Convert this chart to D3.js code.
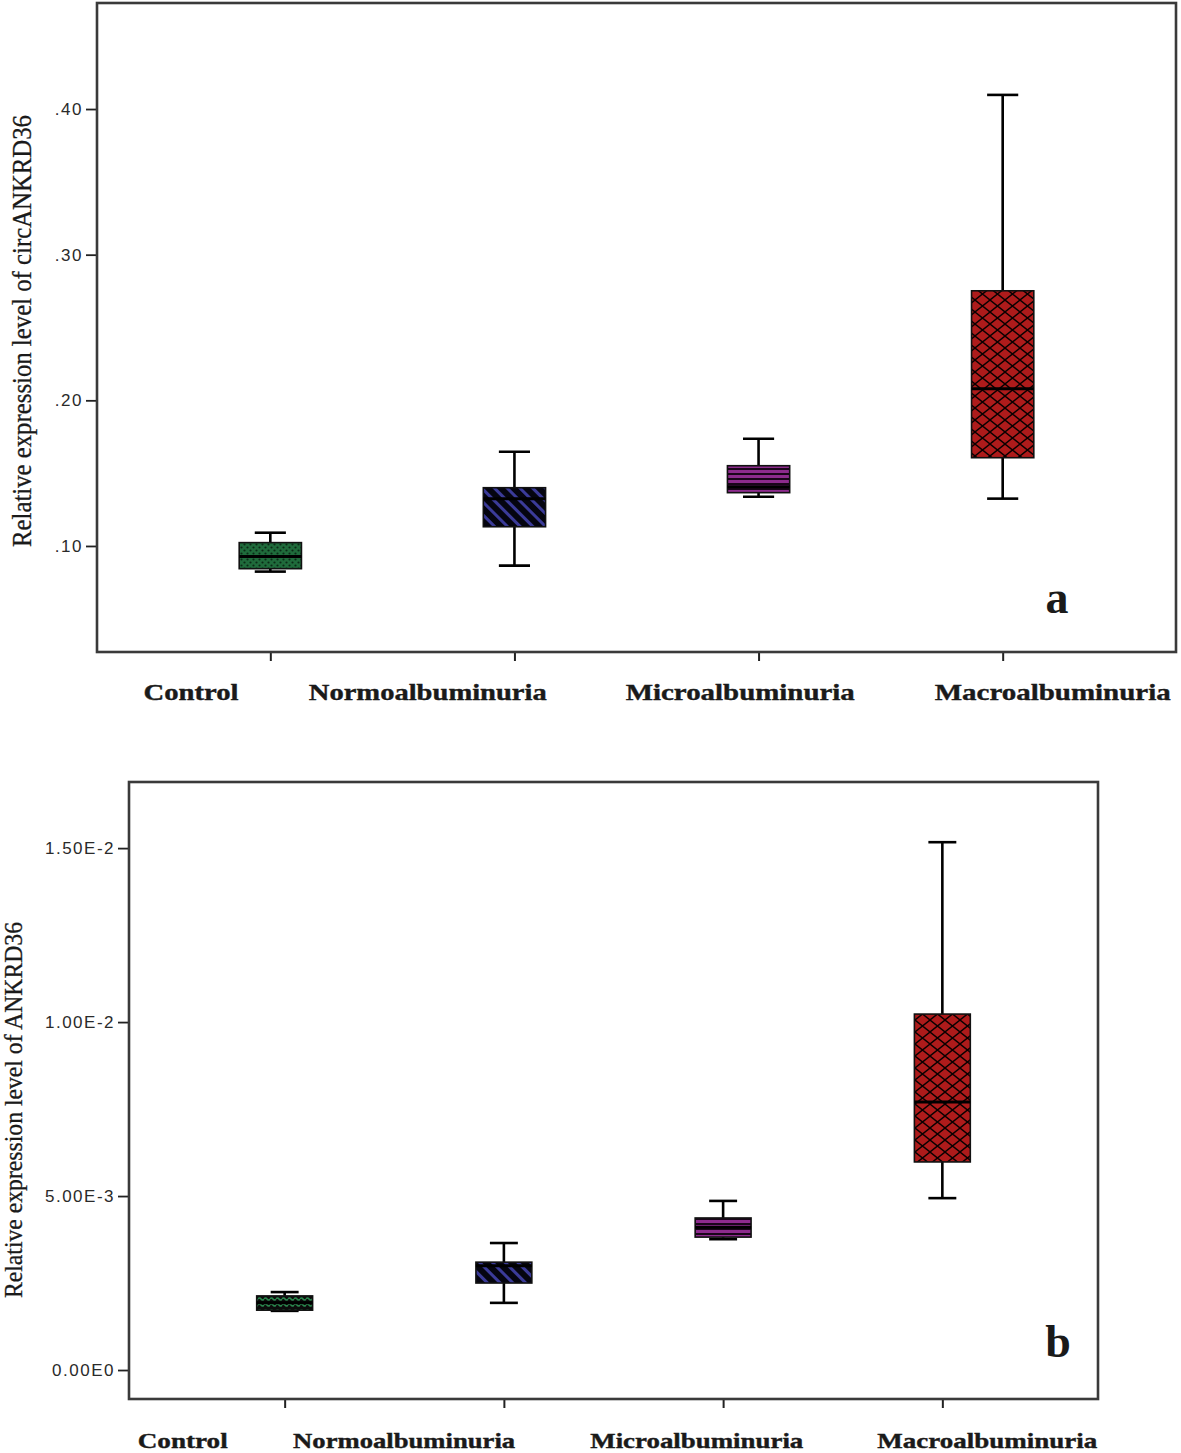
<!DOCTYPE html>
<html>
<head>
<meta charset="utf-8">
<script src="https://cdn.jsdelivr.net/npm/d3@7"></script>
<style>
  html, body { margin: 0; padding: 0; background: #fff; }
  svg { display: block; }
</style>
</head>
<body>
<svg id="chart" width="1181" height="1453"></svg>
<script>
// ---------------- DATA ----------------
const categories = ["Control", "Normoalbuminuria", "Microalbuminuria", "Macroalbuminuria"];

// Panel a: circANKRD36
const circWhiskerLow  = [0.0824, 0.0865, 0.1338, 0.1325];
const circQ1          = [0.0844, 0.1132, 0.1366, 0.1606];
const circMedian      = [0.0927, 0.1325, 0.1407, 0.2080];
const circQ3          = [0.1023, 0.1400, 0.1551, 0.2752];
const circWhiskerHigh = [0.1091, 0.1647, 0.1736, 0.4097];
const circTicks = [0.1, 0.2, 0.3, 0.4];

// Panel b: ANKRD36
const ankWhiskerLow  = [0.00170, 0.00193, 0.00376, 0.00494];
const ankQ1          = [0.00172, 0.00250, 0.00382, 0.00598];
const ankMedian      = [0.00193, 0.00300, 0.00410, 0.00770];
const ankQ3          = [0.00213, 0.00310, 0.00437, 0.01023];
const ankWhiskerHigh = [0.00224, 0.00365, 0.00486, 0.01517];
const ankTicks = [0, 0.005, 0.01, 0.015];

// ---------------- RENDER ----------------
const svg = d3.select("#chart");
const defs = svg.append("defs");

function mkPattern(id, w, h, bg, transform) {
  const p = defs.append("pattern").attr("id", id)
    .attr("patternUnits", "userSpaceOnUse").attr("width", w).attr("height", h);
  if (transform) p.attr("patternTransform", transform);
  p.append("rect").attr("width", w).attr("height", h).attr("fill", bg);
  return p;
}
// green dotted
const pg = mkPattern("greenDots", 6, 6, "#1f6b3b");
pg.append("circle").attr("cx", 1.5).attr("cy", 1.5).attr("r", 1.1).attr("fill", "#0a2a16");
pg.append("circle").attr("cx", 4.5).attr("cy", 4.5).attr("r", 1.1).attr("fill", "#0a2a16");
// green wavy
const pw = mkPattern("greenWave", 6, 6, "#0c0c0c");
pw.append("path").attr("d", "M0,3 Q1.5,1 3,3 T6,3").attr("stroke", "#2a8a4e").attr("stroke-width", 1.6).attr("fill", "none");
// blue diagonal stripes
const pb = mkPattern("blueStripes", 9, 9, "#050510", "rotate(-45)");
pb.append("rect").attr("x", 3).attr("width", 3).attr("height", 9).attr("fill", "#3b3b99");
// purple horizontal stripes
const pp = mkPattern("purpleStripes", 5, 5, "#8d2b8d");
pp.append("rect").attr("y", 3).attr("width", 5).attr("height", 2).attr("fill", "#1a051a");
// red crosshatch
const pr = mkPattern("redCross", 15, 12, "#ae1b1b");
pr.append("path").attr("d", "M0,0 L15,12 M15,0 L0,12 M-1,11 L1,13 M14,-1 L16,1")
  .attr("stroke", "#0a0000").attr("stroke-width", 1.4).attr("fill", "none");

function drawPanel(cfg) {
  const x = d3.scalePoint().domain(categories).range([cfg.left, cfg.right]).padding(0.71);
  const y = d3.scaleLinear().domain(cfg.domain).range([cfg.bottom, cfg.top]);
  const g = svg.append("g");
  const step = x.step();
  const bw = step * 0.255;

  // y ticks
  const yAxis = d3.axisLeft(y).tickValues(cfg.ticks).tickSize(11).tickPadding(3).tickFormat(cfg.fmt);
  const ya = g.append("g").attr("transform", `translate(${cfg.left},0)`).call(yAxis);
  ya.select(".domain").remove();
  ya.selectAll(".tick line").attr("stroke", "#222").attr("stroke-width", 1.8);
  ya.selectAll(".tick text").attr("font-family", "'Liberation Sans', Arial, sans-serif")
    .attr("font-size", 17).attr("fill", "#2a2a2a").attr("letter-spacing", cfg.tickSpacing);

  // x ticks
  const xAxis = d3.axisBottom(x).tickSize(9).tickFormat("");
  const xa = g.append("g").attr("transform", `translate(0,${cfg.bottom})`).call(xAxis);
  xa.select(".domain").remove();
  xa.selectAll(".tick line").attr("stroke", "#222").attr("stroke-width", 2);

  // frame
  g.append("rect").attr("x", cfg.left).attr("y", cfg.top)
    .attr("width", cfg.right - cfg.left).attr("height", cfg.bottom - cfg.top)
    .attr("fill", "none").attr("stroke", "#3a3a3a").attr("stroke-width", 2.6);

  // boxes
  categories.forEach((c, i) => {
    const cx = x(c);
    g.append("line").attr("x1", cx).attr("x2", cx).attr("y1", y(cfg.hi[i])).attr("y2", y(cfg.q3[i]))
      .attr("stroke", "#000").attr("stroke-width", 2.6);
    g.append("line").attr("x1", cx).attr("x2", cx).attr("y1", y(cfg.q1[i])).attr("y2", y(cfg.lo[i]))
      .attr("stroke", "#000").attr("stroke-width", 2.6);
    [cfg.hi[i], cfg.lo[i]].forEach(v => {
      g.append("line").attr("x1", cx - bw / 4).attr("x2", cx + bw / 4).attr("y1", y(v)).attr("y2", y(v))
        .attr("stroke", "#000").attr("stroke-width", 2.6);
    });
    g.append("rect").attr("x", cx - bw / 2).attr("width", bw)
      .attr("y", y(cfg.q3[i])).attr("height", y(cfg.q1[i]) - y(cfg.q3[i]))
      .attr("fill", `url(#${cfg.patterns[i]})`).attr("stroke", "#111").attr("stroke-width", 1.6);
    g.append("line").attr("x1", cx - bw / 2).attr("x2", cx + bw / 2)
      .attr("y1", y(cfg.med[i])).attr("y2", y(cfg.med[i]))
      .attr("stroke", "#000").attr("stroke-width", 3);
  });

  // category labels
  categories.forEach((c, i) => {
    g.append("text").attr("x", x(c) + cfg.labelOffset[i] * step).attr("y", cfg.labelY)
      .attr("text-anchor", "middle")
      .attr("font-family", "'Liberation Serif', 'Times New Roman', serif").attr("font-weight", "bold")
      .attr("font-size", cfg.labelSize).attr("fill", "#1a1a1a")
      .attr("stroke", "#1a1a1a").attr("stroke-width", 0.4)
      .attr("textLength", cfg.labelWidth[i]).attr("lengthAdjust", "spacingAndGlyphs")
      .text(c);
  });

  // y title
  g.append("text")
    .attr("transform", `translate(${cfg.titleX},${cfg.titleY}) rotate(-90)`)
    .attr("text-anchor", "middle")
    .attr("font-family", "'Liberation Serif', 'Times New Roman', serif")
    .attr("font-size", cfg.titleSize).attr("fill", "#1a1a1a")
    .attr("stroke", "#1a1a1a").attr("stroke-width", 0.3)
    .attr("textLength", cfg.titleLen).attr("lengthAdjust", "spacingAndGlyphs")
    .text(cfg.title);

  // panel letter
  g.append("text").attr("x", cfg.letterX).attr("y", cfg.letterY).attr("text-anchor", "middle")
    .attr("font-family", "'Liberation Serif', 'Times New Roman', serif").attr("font-weight", "bold")
    .attr("font-size", 46).attr("fill", "#1a1a1a").text(cfg.letter);
}

const fmtA = d => d3.format(".2f")(d).replace(/^0/, "");
const fmtB = d => d.toExponential(2).toUpperCase().replace("+", "");

drawPanel({
  left: 97, right: 1176, top: 3, bottom: 652,
  domain: [0.0272, 0.4728], ticks: circTicks, fmt: fmtA, tickSpacing: 1.5,
  lo: circWhiskerLow, q1: circQ1, med: circMedian, q3: circQ3, hi: circWhiskerHigh,
  patterns: ["greenDots", "blueStripes", "purpleStripes", "redCross"],
  labelOffset: [-0.325, -0.355, -0.075, 0.205], labelWidth: [95, 238, 229, 236],
  labelY: 700, labelSize: 24,
  title: "Relative expression level of circANKRD36", titleX: 31, titleY: 331, titleLen: 432, titleSize: 28,
  letter: "a", letterX: 1057, letterY: 613
});

drawPanel({
  left: 129, right: 1098, top: 782, bottom: 1399,
  domain: [-0.000833, 0.0169], ticks: ankTicks, fmt: fmtB, tickSpacing: 1.5,
  lo: ankWhiskerLow, q1: ankQ1, med: ankMedian, q3: ankQ3, hi: ankWhiskerHigh,
  patterns: ["greenWave", "blueStripes", "purpleStripes", "redCross"],
  labelOffset: [-0.465, -0.455, -0.12, 0.205], labelWidth: [90, 222, 213, 220],
  labelY: 1448, labelSize: 22,
  title: "Relative expression level of ANKRD36", titleX: 22, titleY: 1110, titleLen: 376, titleSize: 26,
  letter: "b", letterX: 1058, letterY: 1357
});
</script>
</body>
</html>
